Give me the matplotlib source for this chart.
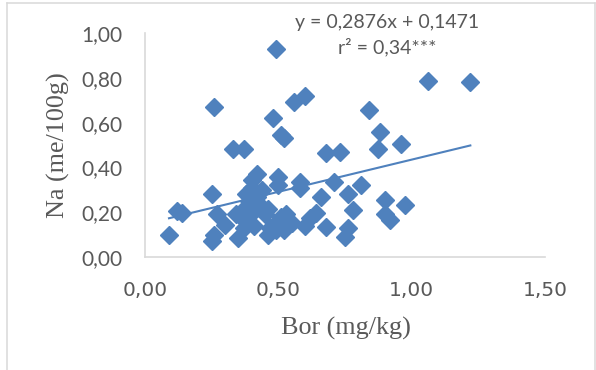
import matplotlib.pyplot as plt
from matplotlib.lines import Line2D

# --- Data ---
bor = [0.09, 0.12, 0.14, 0.25, 0.26, 0.25, 0.26, 0.27, 0.30, 0.33,
       0.37, 0.35, 0.34, 0.37, 0.38, 0.40, 0.42, 0.40, 0.41, 0.40,
       0.44, 0.46, 0.46, 0.47, 0.48, 0.49, 0.50, 0.50, 0.51, 0.52,
       0.51, 0.53, 0.52, 0.54, 0.56, 0.60, 0.58, 0.58, 0.60, 0.62,
       0.64, 0.66, 0.68, 0.68, 0.71, 0.73, 0.76, 0.75, 0.76, 0.78,
       0.81, 0.84, 0.875, 0.88, 0.90, 0.90, 0.92, 0.96, 0.975, 1.06,
       1.22, 0.36, 0.38, 0.39, 0.42, 0.41, 0.43, 0.45, 0.50, 0.53,
       0.55, 0.49, 0.37, 0.39, 0.44]
na = [0.10, 0.205, 0.195, 0.28, 0.67, 0.07, 0.10, 0.19, 0.145, 0.48,
      0.48, 0.085, 0.19, 0.165, 0.28, 0.345, 0.37, 0.31, 0.225, 0.195,
      0.21, 0.215, 0.10, 0.13, 0.62, 0.93, 0.355, 0.32, 0.545, 0.53,
      0.18, 0.19, 0.12, 0.155, 0.69, 0.72, 0.335, 0.31, 0.14, 0.175,
      0.195, 0.27, 0.135, 0.465, 0.335, 0.47, 0.28, 0.09, 0.13, 0.21,
      0.32, 0.655, 0.48, 0.56, 0.255, 0.19, 0.165, 0.505, 0.23, 0.785,
      0.78, 0.20, 0.16, 0.25, 0.27, 0.14, 0.23, 0.19, 0.16, 0.17,
      0.15, 0.12, 0.13, 0.21, 0.30]

slope = 0.2876
intercept = 0.1471
x_ticks = [0.0, 0.5, 1.0, 1.5]
x_tick_labels = ["0,00", "0,50", "1,00", "1,50"]
y_ticks = [0.0, 0.2, 0.4, 0.6, 0.8, 1.0]
y_tick_labels = ["0,00", "0,20", "0,40", "0,60", "0,80", "1,00"]

blue = "#4f81bd"
grey_txt = "#595959"
grey_line = "#d9d9d9"

fig = plt.figure(figsize=(5.96, 3.70), dpi=100)
ax = fig.add_axes([145 / 596, 1 - 257 / 370, 400 / 596, 224 / 370])

ax.plot(bor, na, linestyle="none", marker="D", ms=8.9,
        color=blue, markeredgecolor=blue, zorder=3)

# linear trend line over the data range
x0, x1 = min(bor), max(bor)
ax.plot([x0, x1], [slope * x0 + intercept, slope * x1 + intercept],
        color=blue, lw=1.5, zorder=2)

ax.set_xlim(0, 1.5)
ax.set_ylim(0, 1.0)
ax.set_xticks(x_ticks)
ax.set_xticklabels(x_tick_labels, fontfamily="DejaVu Sans", fontsize=14.5,
                   color=grey_txt)
ax.set_yticks(y_ticks)
ax.set_yticklabels(y_tick_labels, fontfamily="Lato", fontsize=15,
                   color=grey_txt)
ax.tick_params(axis="both", length=0)
ax.tick_params(axis="y", pad=16)
ax.tick_params(axis="x", pad=17)

for s in ["top", "right"]:
    ax.spines[s].set_visible(False)
for s in ["left", "bottom"]:
    ax.spines[s].set_color(grey_line)
    ax.spines[s].set_linewidth(1.2)

ax.text(0.5025, -0.317, "Bor (mg/kg)", transform=ax.transAxes,
        ha="center", va="center", fontfamily="Liberation Serif",
        fontsize=18.8, color=grey_txt)
ax.text(-0.2175, 0.5, "Na (me/100g)", transform=ax.transAxes, rotation=90,
        ha="center", va="center", fontfamily="Liberation Serif",
        fontsize=18.8, color=grey_txt)

ax.text(0.605, 1.049, "y = 0,2876x + 0,1471", transform=ax.transAxes,
        ha="center", va="center", fontfamily="Lato", fontsize=14,
        color=grey_txt)
ax.text(0.605, 0.9375, "r² = 0,34***", transform=ax.transAxes,
        ha="center", va="center", fontfamily="Lato", fontsize=14,
        color=grey_txt)

# chart border (light grey frame, bottom edge cut off)
xl, xr, yt = 7.5 / 596, 595 / 596, 1 - 3.3 / 370
for xs, ys in [([xl, xl], [0, yt]), ([xl, xr], [yt, yt]), ([xr, xr], [yt, 0])]:
    fig.add_artist(Line2D(xs, ys, transform=fig.transFigure,
                          color=grey_line, lw=1.1))

fig.savefig("out.png", dpi=100)
